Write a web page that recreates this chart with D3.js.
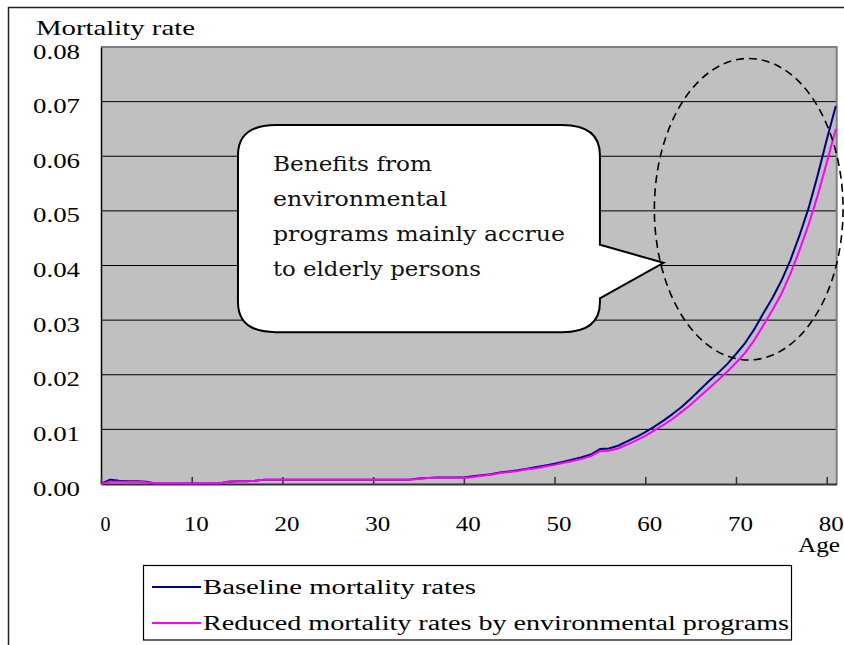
<!DOCTYPE html>
<html><head><meta charset="utf-8">
<script src="https://cdn.jsdelivr.net/npm/d3@7"></script>
<style>body{margin:0;background:#fff}svg{display:block}</style>
</head><body>
<svg id="c" width="844" height="645"></svg>
<script>
const ages = d3.range(0, 82);
const baseline = [0.0000,0.0008,0.0006,0.0005,0.0005,0.0004,0.0001,0.0001,0.0001,0.0001,
0.0001,0.0001,0.0001,0.0001,0.0004,0.0005,0.0005,0.0006,0.0008,0.0008,
0.0008,0.0008,0.0008,0.0008,0.0008,0.0008,0.0008,0.0008,0.0008,0.0008,
0.0008,0.0008,0.0008,0.0008,0.0008,0.0010,0.0011,0.0012,0.0012,0.0012,
0.0012,0.0014,0.0016,0.0018,0.0021,0.0023,0.0025,0.0028,0.0031,0.0034,
0.0037,0.0041,0.0045,0.0049,0.0054,0.0064,0.0065,0.0070,0.0078,0.0086,
0.0095,0.0105,0.0116,0.0128,0.0141,0.0156,0.0172,0.0188,0.0203,0.0219,
0.0238,0.0258,0.0283,0.0312,0.0340,0.0372,0.0410,0.0455,0.0505,0.0565,
0.0630,0.0692];
const reduced = [0.0000,0.0004,0.0004,0.0004,0.0004,0.0003,0.0001,0.0001,0.0001,0.0001,
0.0001,0.0001,0.0001,0.0001,0.0004,0.0005,0.0005,0.0006,0.0008,0.0008,
0.0008,0.0008,0.0008,0.0008,0.0008,0.0008,0.0008,0.0008,0.0008,0.0008,
0.0008,0.0008,0.0008,0.0008,0.0008,0.0009,0.0011,0.0011,0.0011,0.0011,
0.0011,0.0013,0.0015,0.0017,0.0020,0.0022,0.0024,0.0027,0.0029,0.0032,
0.0035,0.0039,0.0042,0.0046,0.0051,0.0060,0.0061,0.0065,0.0072,0.0080,
0.0088,0.0098,0.0108,0.0119,0.0132,0.0145,0.0160,0.0175,0.0190,0.0205,
0.0222,0.0240,0.0263,0.0290,0.0318,0.0348,0.0385,0.0428,0.0475,0.0528,
0.0588,0.0650];
const xTicks = [0,10,20,30,40,50,60,70,80];
const yTicks = [0,0.01,0.02,0.03,0.04,0.05,0.06,0.07,0.08];
const seriesNames = ["Baseline mortality rates","Reduced mortality rates by environmental programs"];
const seriesColors = ["#000080","#ff00ff"];
const calloutLines = ["Benefits from","environmental","programs mainly accrue","to elderly persons"];

const svg = d3.select("#c");
const L=101, R=836.7, T=47, B=484;
const x = d3.scaleLinear().domain([0,81.1]).range([L,R]);
const y = d3.scaleLinear().domain([0,0.08]).range([B,T]);
const serif = "'Liberation Serif', 'Times New Roman', serif";

// outer border
svg.append("rect").attr("x",8.5).attr("y",7.5).attr("width",845).attr("height",650)
  .attr("fill","none").attr("stroke","#222").attr("stroke-width",1.5);

// plot area
svg.append("rect").attr("x",L).attr("y",T).attr("width",R-L).attr("height",B-T).attr("fill","#c0c0c0");
// grid
svg.append("g").selectAll("line").data(yTicks.filter(d=>d>0 && d<0.08)).join("line")
  .attr("x1",L).attr("x2",R).attr("y1",d=>y(d)).attr("y2",d=>y(d))
  .attr("stroke","#000").attr("stroke-width",1);
// plot border top/right
svg.append("path").attr("d",`M${L},${T}H${R}V${B}`).attr("fill","none").attr("stroke","#808080").attr("stroke-width",2);

// y axis
const ya = svg.append("g").attr("transform",`translate(${L},0)`)
  .call(d3.axisLeft(y).tickValues(yTicks).tickSize(0).tickPadding(21).tickFormat(d3.format(".2f")));
ya.select(".domain").attr("stroke","#000").attr("stroke-width",1.5);
ya.selectAll("text").attr("font-family",serif).attr("font-size",20).attr("fill","#000")
  .attr("dy",null).attr("y",11).attr("textLength",47).attr("lengthAdjust","spacingAndGlyphs");

// x axis
const xa = svg.append("g").attr("transform",`translate(0,${B})`)
  .call(d3.axisBottom(x).tickValues(xTicks).tickSizeInner(-7).tickSizeOuter(0));
xa.select(".domain").attr("stroke","#333").attr("stroke-width",2);
xa.selectAll(".tick line").attr("stroke","#333").attr("stroke-width",1.5);
xa.selectAll("text").attr("font-family",serif).attr("font-size",20).attr("fill","#000")
  .attr("dy",null).attr("y",47).attr("x",4)
  .each(function(d){ if(d>0) d3.select(this).attr("textLength",25).attr("lengthAdjust","spacingAndGlyphs"); });

// axis titles
svg.append("text").attr("x",36).attr("y",35).attr("font-family",serif).attr("font-size",22)
  .attr("textLength",159).attr("lengthAdjust","spacingAndGlyphs").text("Mortality rate");
svg.append("text").attr("x",798).attr("y",552).attr("font-family",serif).attr("font-size",20)
  .attr("textLength",42).attr("lengthAdjust","spacingAndGlyphs").text("Age");

// lines
const line = d3.line().x((d,i)=>x(ages[i])).y(d=>y(d));
[baseline, reduced].forEach((s,k)=>{
  svg.append("path").datum(s).attr("d",line).attr("fill","none")
    .attr("stroke",seriesColors[k]).attr("stroke-width",2).attr("stroke-linejoin","round");
});

// callout (positioned in data units)
const cb = {a0:15.1, a1:55.0, v0:0.0278, v1:0.0657, tipA:62.0, tipV:0.0405, pv0:0.0438, pv1:0.0340};
const X0=x(cb.a0), X1=x(cb.a1), Y0=y(cb.v1), Y1=y(cb.v0), rx=38, ry=30;
const p = d3.path();
p.moveTo(X0+rx,Y0); p.lineTo(X1-rx,Y0); p.quadraticCurveTo(X1,Y0,X1,Y0+ry);
p.lineTo(X1,y(cb.pv0)); p.lineTo(x(cb.tipA),y(cb.tipV)); p.lineTo(X1,y(cb.pv1));
p.lineTo(X1,Y1-ry); p.quadraticCurveTo(X1,Y1,X1-rx,Y1); p.lineTo(X0+rx,Y1);
p.quadraticCurveTo(X0,Y1,X0,Y1-ry); p.lineTo(X0,Y0+ry); p.quadraticCurveTo(X0,Y0,X0+rx,Y0); p.closePath();
svg.append("path").attr("d",p.toString()).attr("fill","#fff").attr("stroke","#000").attr("stroke-width",2);
const lineW = [159,174,292,208];
svg.append("g").selectAll("text").data(calloutLines).join("text")
  .attr("x",X0+35).attr("y",(d,i)=>Y0+46+i*35)
  .attr("font-family","'DejaVu Serif', serif").attr("font-size",21).attr("fill","#111")
  .attr("textLength",(d,i)=>lineW[i]).attr("lengthAdjust","spacingAndGlyphs").text(d=>d);

// dashed ellipse
const el = {a:71.4, v:0.0503, ra:10.4, rv:0.0276};
svg.append("ellipse").attr("cx",x(el.a)).attr("cy",y(el.v))
  .attr("rx",x(el.ra)-x(0)).attr("ry",y(0)-y(el.rv))
  .attr("fill","none").attr("stroke","#000").attr("stroke-width",1.6).attr("stroke-dasharray","8,5");

// legend
const lg = svg.append("g");
lg.append("rect").attr("x",143.5).attr("y",565.5).attr("width",648).attr("height",74.5)
  .attr("fill","#fff").attr("stroke","#000").attr("stroke-width",1.2);
const legW = [273,586];
seriesNames.forEach((n,k)=>{
  const cy = 587 + k*36;
  lg.append("line").attr("x1",152).attr("x2",201).attr("y1",cy).attr("y2",cy)
    .attr("stroke",seriesColors[k]).attr("stroke-width",2);
  lg.append("text").attr("x",203).attr("y",cy+7).attr("font-family",serif).attr("font-size",20)
    .attr("textLength",legW[k]).attr("lengthAdjust","spacingAndGlyphs").text(n);
});
</script>
</body></html>
